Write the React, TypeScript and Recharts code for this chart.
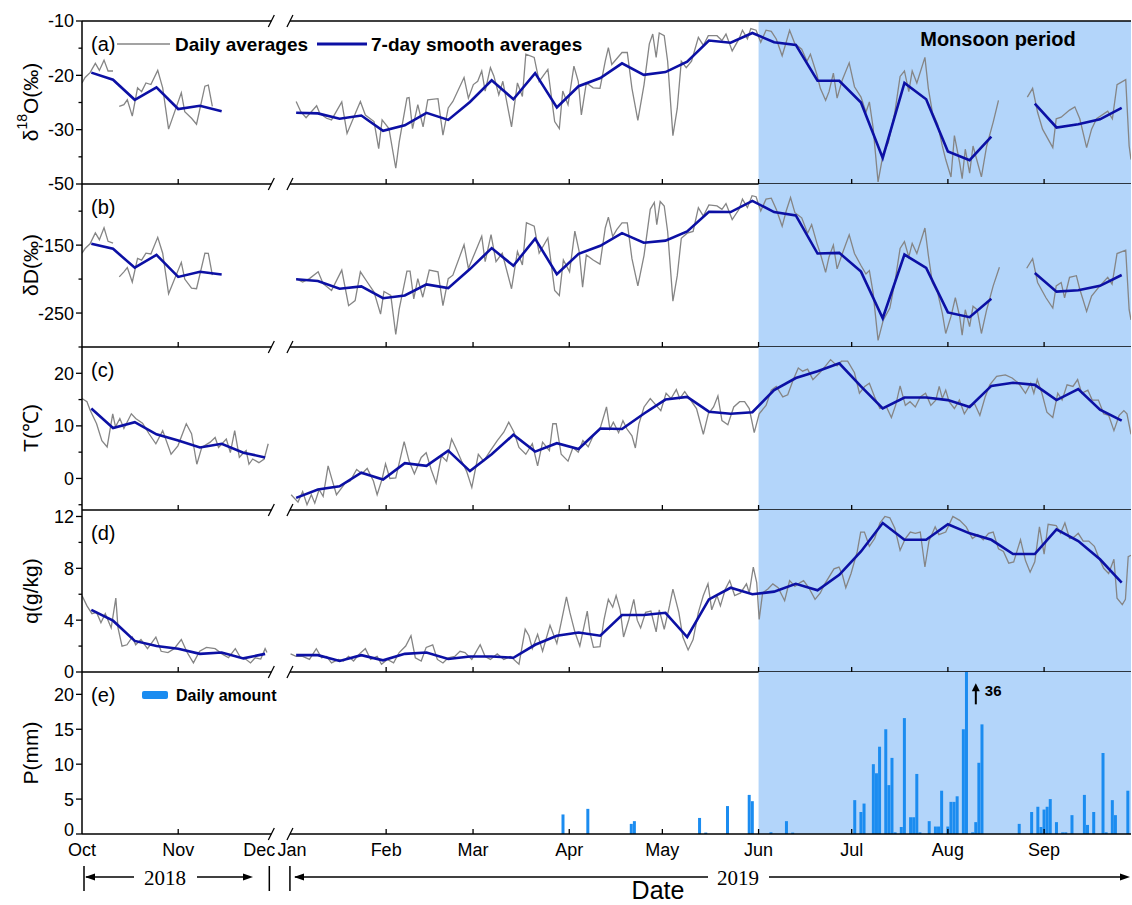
import React from 'react';
import {
  ComposedChart,
  Line,
  Bar,
  XAxis,
  YAxis,
  ReferenceArea,
  ReferenceLine,
  ReferenceDot,
} from 'recharts';

const FONT = '"Liberation Sans", Arial, Helvetica, sans-serif';
const SERIF = '"Liberation Serif", "Times New Roman", serif';
const GREY = '#858585';
const NAVY = '#0c10a4';
const SHADE = '#b3d5fa';
const RAIN_BLUE = '#1b8cf0';

// x = days since 1 Oct 2018; December is cut short by the axis break (1 Jan 2019 = 67)
const X_MAX = 338;
const MONSOON_START = 218;
const BREAK_FROM = 61;
const BREAK_TO = 67;
const MONTH_DAYS = [0, 31, 61, 67, 98, 126, 157, 187, 218, 248, 279, 310];
const MONTH_LABELS = ['Oct', 'Nov', 'Dec', 'Jan', 'Feb', 'Mar', 'Apr', 'May', 'Jun', 'Jul', 'Aug', 'Sep'];

type Pt = [number, number | null];

// (a) d18O daily averages
const D18O_DAILY: Pt[] = [
  [0, -21.4], [1, -20.4], [2.6, -19.5], [4.3, -17.8], [5.6, -19.1], [7.1, -17.2], [8.4, -19.2], [10, -19.2], [11, null],
  [12, -25.7], [13.5, -25.4], [14.6, -24.5], [16.2, -27.5], [17.9, -22.3], [19.2, -23.0], [20.6, -21.4], [22.2, -21.7],
  [24.4, -19.1], [26, -22.3], [27.9, -29.9], [32, -23.2], [33.1, -26.7], [35.3, -27.9], [36.9, -29.0], [39.6, -22.0],
  [40.7, -21.8], [42, -25.7], [55, null],
  [69, -24.8], [70.5, -26.7], [72.2, -27.8], [75.6, -25.6], [76.6, -27.0], [78.8, -27.9], [80.4, -28.2], [83.7, -24.9],
  [85.4, -30.7], [88.3, -26.7], [89.7, -24.8], [91.3, -27.3], [94.1, -28.5], [95.6, -33.5], [96.7, -28.2], [98.9, -29.8],
  [101.1, -37.1], [102.2, -32.3], [104.7, -24.2], [105.4, -24.1], [106.5, -29.8], [108.2, -25.4], [109.9, -29.5],
  [111.4, -24.5], [114.7, -24.3], [116.3, -31.0], [118, -26.0], [119.5, -24.8], [123.1, -20.4], [124.5, -24.2],
  [126.1, -21.7], [127.5, -21.1], [128.8, -19.2], [129.9, -22.9], [131.6, -18.6], [132.7, -20.1], [134.3, -23.6],
  [135.6, -21.1], [138.4, -29.5], [140.3, -21.4], [141.9, -23.9], [143, -16.1], [145.7, -16.7], [147.3, -21.1],
  [150.1, -18.9], [152.3, -28.5], [153.8, -29.8], [154.9, -22.9], [156.6, -25.4], [158.5, -18.3], [159.9, -21.1],
  [160.9, -27.3], [162.5, -21.4], [164.7, -22.3], [166.9, -22.4], [168.6, -17.4], [169.6, -14.9], [170.7, -18.0],
  [174, -15.8], [175.7, -15.8], [177.2, -22.4], [179.1, -28.3], [181.1, -21.7], [182.8, -14.2], [183.9, -12.4],
  [185, -16.7], [186, -12.2], [187.6, -12.7], [188.7, -17.4], [190.4, -31.1], [191.8, -26.1], [193.1, -17.4],
  [194.7, -18.6], [196.4, -17.4], [198.6, -13.0], [200.2, -14.5], [201.8, -12.7], [204.6, -12.7], [206.2, -13.6],
  [207.5, -12.4], [209.5, -15.5], [211.7, -13.3], [212.8, -11.7], [214.4, -13.3], [215.5, -11.4], [217.2, -11.7],
  [218.7, -13.9], [220.4, -11.7], [222.1, -11.9], [223.7, -13.3], [225.6, -16.4], [226.9, -13.9], [228, -11.7],
  [229.7, -14.2], [231.9, -15.2], [233.6, -17.4], [234.7, -16.1], [236.8, -19.9], [237.9, -22.4], [239.6, -24.6],
  [240.7, -23.0], [242.1, -19.6], [243.3, -24.2], [245, -20.8], [247.2, -17.7], [248.9, -22.1], [251, -24.0],
  [252.6, -26.8], [253.7, -24.9], [254.9, -29.6], [256.5, -39.6], [258.2, -34.3], [259.8, -32.4], [261.9, -26.8],
  [263.6, -20.2], [265, -19.2], [266.4, -23.0], [267.5, -19.2], [269, -21.4], [271.6, -16.7], [272.7, -22.4],
  [274, -26.8], [275.7, -29.0], [277.2, -33.0], [278.3, -35.5], [280, -38.7], [281.1, -31.1], [282.8, -36.1],
  [283.6, -39.0], [284.6, -33.6], [286, -38.0], [287.1, -33.0], [289.8, -38.7], [291.5, -33.0], [293.6, -28.6],
  [295.3, -24.6], [300, null],
  [304.6, -24.0], [306.3, -22.4], [307.9, -26.8], [309.5, -29.9], [312.8, -33.3], [313.9, -28.0], [315.5, -27.7],
  [318.2, -26.4], [319.9, -25.8], [321.5, -28.0], [323.7, -33.3], [325.3, -29.9], [326.9, -28.0], [330.5, -26.6],
  [332, -28.0], [333.5, -21.7], [336.3, -20.8], [337.4, -33.0], [338, -35.5],
];

const D18O_WEEKLY: Pt[] = [
  [3, -19.5], [10, -20.8], [17, -24.5], [24, -22.2], [31, -26.2], [38, -25.6], [45, -26.6], [60, null],
  [69, -26.9], [76, -27.0], [83, -28.0], [90, -27.4], [97, -30.2], [104, -29.2], [111, -26.9], [118, -28.2],
  [125, -24.9], [132, -20.9], [139, -24.4], [146, -19.6], [153, -25.9], [160, -22.0], [167, -20.5], [174, -17.8],
  [181, -19.9], [188, -19.4], [195, -17.5], [202, -13.6], [209, -14.0], [216, -12.2], [223, -13.9], [230, -14.4],
  [237, -21.0], [244, -21.0], [251, -25.0], [258, -35.2], [265, -21.4], [272, -24.4], [279, -34.0], [286, -35.6],
  [293, -31.3], [300, null], [307, -25.2], [314, -29.6], [321, -29.0], [328, -28.1], [335, -26.0],
];

// (b) dD daily averages
const DD_DAILY: Pt[] = [
  [0, -161.9], [1, -155], [2.6, -148], [4.3, -132], [5.6, -142], [7.1, -124.5], [8.4, -144.4], [10, -146.9], [11, null],
  [12, -196.8], [13.5, -189.3], [14.6, -183], [16.2, -204.3], [17.9, -169.4], [19.2, -172], [20.6, -161.9], [22.2, -163],
  [24.4, -138.5], [26, -161.9], [27.9, -221.7], [32, -175.4], [33.1, -200], [35.3, -213.3], [36.9, -214.2],
  [39.6, -161.9], [40.7, -162], [42, -194.3], [55, null],
  [69, -199.3], [71.1, -204.3], [73.3, -199.3], [76.1, -189.3], [77.7, -206.8], [80.4, -216.7], [83.7, -186.8],
  [85.9, -239.2], [88, -231.7], [89.7, -189.3], [91.9, -204.3], [94.1, -219.2], [96.2, -251.6], [97.3, -218.2],
  [99.5, -224.2], [101.1, -281.6], [102.2, -244.2], [104.7, -188.3], [105.7, -188.3], [106.9, -229.2], [108.2, -199.3],
  [109.8, -226.7], [111.9, -186.8], [114.7, -189.3], [116.3, -239.2], [118, -199.3], [119.5, -194.3], [123.1, -149.4],
  [124.5, -184.3], [126.1, -166.9], [128.8, -137], [129.9, -174.4], [131.8, -134.5], [133.4, -174.4], [135.4, -161.9],
  [138.4, -214.2], [140.3, -159.4], [141.9, -179.3], [143.2, -117], [145.7, -122], [147.3, -161.9], [150.1, -139.5],
  [152.3, -216.7], [153.8, -224.2], [155.1, -171.9], [157.1, -189.3], [158.8, -129.5], [160.2, -159.4], [161.3, -211.8],
  [162.5, -164.4], [164.7, -172], [166.9, -178], [168.6, -124.8], [169.6, -108.8], [171, -137.4], [172.3, -127.3],
  [174, -117.3], [175.7, -117.3], [177.2, -170], [179.1, -210], [181.1, -165], [183.1, -97.3], [184.4, -87.3],
  [185.2, -119.8], [186.3, -85.8], [187.6, -92.3], [188.7, -129.9], [190.4, -232.5], [191.8, -195], [193.1, -139.9],
  [195, -132.4], [196.9, -129.9], [198.6, -94.8], [200.2, -107.3], [202, -90.8], [204.6, -92.3], [206.2, -97.3],
  [207.5, -88.8], [209.5, -112.3], [211.7, -97.3], [212.8, -82.3], [214.4, -94.8], [215.9, -77.2], [217.2, -78.7],
  [218.7, -99.8], [220.4, -82.3], [222.1, -80.8], [223.7, -97.3], [225.6, -122.3], [226.9, -99.8], [228.3, -79.8],
  [229.7, -102.3], [231.9, -109.8], [233.8, -132.4], [235.1, -119.8], [236.8, -147.4], [237.9, -162.4], [239.6, -190],
  [240.7, -167.4], [242.1, -149.9], [243.3, -185], [245, -162.4], [247.2, -134.9], [248.9, -162.4], [251, -180],
  [252.6, -192.5], [253.7, -187.5], [254.9, -220], [256.5, -290.2], [258.2, -260.1], [260.3, -242.6], [261.9, -205],
  [263.6, -154.9], [265, -144.9], [266.4, -167.4], [267.5, -147.4], [269, -162.4], [271.6, -124.8], [272.7, -164.9],
  [274, -205], [275.7, -220], [277.2, -250.1], [278.3, -280.1], [280, -255], [281.4, -227.5], [282.8, -255.1],
  [283.6, -282.6], [284.6, -245.1], [286, -270.1], [287.1, -240.1], [288.4, -245], [289.8, -280.1], [291.5, -245.1],
  [293.6, -210], [295.6, -182.5], [300, null],
  [304.4, -184], [306.3, -169.9], [307.9, -205], [310.6, -227.5], [312.8, -242.6], [313.9, -210], [315.5, -205],
  [316.6, -227.5], [318.2, -197.5], [320.4, -195], [321.5, -215], [323.7, -247.6], [325.3, -225], [327.5, -212.5],
  [330.5, -197.5], [331.9, -207.5], [333.5, -162.4], [336.3, -157.4], [337.4, -245.1], [338, -260.1],
];

const DD_WEEKLY: Pt[] = [
  [3, -147.9], [10, -155.4], [17, -183.3], [24, -164.4], [31, -196.8], [38, -189.3], [45, -193.3], [60, null],
  [69, -200.3], [76, -202.8], [83, -214.2], [90, -210.8], [97, -228.2], [104, -224.2], [111, -207.8], [118, -213.3],
  [125, -185.3], [132, -154.4], [139, -180.3], [146, -140.5], [153, -192.8], [160, -162.9], [167, -151], [174, -132.4],
  [181, -146.4], [188, -143.4], [195, -129.9], [202, -100.8], [209, -101.3], [216, -84.8], [223, -101.3], [230, -106.3],
  [237, -162.4], [244, -161.4], [251, -189], [258, -257.6], [265, -163.9], [272, -183.5], [279, -249.1], [286, -256.1],
  [293, -229], [300, null], [307, -191], [314, -218.5], [321, -216.5], [328, -210], [335, -194],
];

// (c) air temperature
const T_DAILY: Pt[] = [
  [0, 15.2], [1.6, 14.6], [2.6, 13], [4.7, 10.4], [6.4, 7.2], [8.1, 6.0], [9.9, 12.3], [10.8, 9.8], [12.2, 11.4],
  [13.5, 9.5], [15.9, 12.3], [17.3, 11.4], [19.5, 10.5], [21.6, 8.5], [23.8, 6.6], [26, 9.1], [28.7, 4.6], [30.9, 6.2],
  [33.6, 10.4], [35.3, 8.5], [37, 2.7], [38.6, 5.9], [41.3, 6.9], [42.9, 7.8], [44, 5.9], [46.5, 7.5], [47.8, 4.9],
  [49.2, 9.1], [50.7, 4.0], [51.6, 4.6], [52.9, 5.3], [53.8, 2.7], [55, 3.7], [57, 3.0], [58.7, 3.7], [60, 6.6], [64, null],
  [67.4, -3.1], [69.6, -4.5], [71.1, -2.5], [72.5, -5.0], [73.9, -3.1], [75, -4.7], [76.4, -2.1], [77.7, -3.4],
  [79.3, 2.4], [80.7, -0.5], [82, -3.1], [84.8, -0.9], [86.4, -0.5], [88.5, 1.7], [90.2, 0.9], [91.9, 1.9], [93.9, -0.5],
  [95.1, -3.1], [96.7, -0.1], [97.8, 2.8], [99.2, 0], [101.1, 0.1], [103.8, 7.0], [105.4, 3.3], [107.1, 0.9],
  [109.3, 4.0], [110.9, 4.9], [112.5, 1.7], [114.1, -0.9], [115.8, 4.3], [117.5, 3.3], [119.1, 7.5], [120.6, 5.6],
  [122.3, 3.3], [123.9, 1.4], [125.6, -1.7], [127.7, 4.6], [129.4, 3.3], [131.6, 5.3], [133.8, 7.2], [135.9, 8.8],
  [137.5, 10.7], [139.2, 8.8], [140.8, 5.9], [143, 4.6], [145.1, 6.6], [146.8, 2.4], [148.4, 6.9], [150.6, 5.3],
  [151.7, 10.4], [152.8, 10.4], [154.4, 4.6], [156.6, 3.3], [158.2, 5.9], [159.9, 5.0], [161.4, 7.2], [163.1, 6.0],
  [164.8, 8.2], [166.9, 9.4], [169, 13.6], [170.1, 9.4], [171.2, 10.7], [172.9, 8.7], [174.3, 11.0], [175.6, 9.4],
  [177.2, 8.1], [178.3, 5.8], [179.4, 10.3], [181.1, 13.6], [183.1, 15.2], [185, 13.9], [186.5, 12.9], [188.2, 16.2],
  [189.8, 15.2], [191.5, 16.9], [192.6, 15.2], [194.2, 16.5], [198, 13.3], [200.2, 8.4], [201.8, 12.3], [203.5, 13.6],
  [204.9, 15.7], [206.2, 11.0], [208.1, 10.2], [210, 13.6], [211.9, 14.6], [213.5, 14.6], [215, 13.3], [216.6, 8.7],
  [218.2, 12.3], [220.4, 13.9], [222.1, 16.8], [223.7, 17.5], [225.8, 15.5], [227.4, 15.9], [229.2, 18.8], [230.8, 21.0],
  [232.2, 20.4], [233.8, 20.8], [235.5, 18.8], [237.7, 20.1], [239.6, 21.4], [241.2, 22.6], [243.3, 21.4], [244.7, 22.3],
  [246.7, 22.3], [248.9, 20.1], [250.5, 16.2], [252.2, 17.5], [253.7, 18.1], [255.4, 15.5], [257.1, 13.3], [259.2, 13.6],
  [260.8, 11.6], [262.2, 14.0], [263.6, 17.6], [265.3, 13.9], [266.8, 14.6], [268.5, 13.6], [270.1, 15.5], [271.8, 16.2],
  [273.5, 13.9], [275.1, 14.9], [276.2, 17.5], [277.2, 15.2], [278.3, 16.8], [279.4, 14.6], [281.1, 13.3], [282.7, 14.9],
  [284.3, 12.3], [286, 13.9], [287.6, 14.2], [289.3, 12.0], [291, 15.5], [292.5, 17.8], [294.7, 19.4], [297.5, 19.7],
  [299.7, 19.1], [301.8, 18.1], [304, 16.2], [305.7, 18.1], [306.7, 16.2], [307.8, 18.8], [309.3, 16.2], [310.9, 12.6],
  [312.8, 11.6], [314.4, 16.2], [315.8, 14.9], [317.4, 17.8], [319.3, 17.5], [320.8, 18.8], [322.1, 16.2], [324.1, 16.8],
  [325.5, 14.9], [327.5, 14.9], [329.2, 12.3], [330.8, 12.0], [332.5, 9.1], [334.2, 12.0], [335.7, 12.9], [336.7, 12.3],
  [338, 8.4],
];

const T_WEEKLY: Pt[] = [
  [3, 13.3], [10, 9.6], [17, 10.7], [24, 8.4], [31, 7.2], [38, 5.9], [45, 6.6], [52, 4.9], [59, 4.0], [64, null],
  [69, -3.7], [76, -2.1], [83, -1.5], [90, 1.1], [97, -0.2], [104, 2.9], [111, 2.4], [118, 5.3], [125, 1.4], [132, 4.6],
  [139, 8.3], [146, 5.1], [153, 6.7], [160, 5.6], [167, 9.5], [174, 9.4], [181, 12.3], [188, 15.0], [195, 15.5],
  [202, 12.7], [209, 12.3], [216, 12.6], [223, 16.8], [230, 19.1], [237, 20.4], [244, 21.9], [251, 17.5], [258, 13.3],
  [265, 15.4], [272, 15.4], [279, 14.9], [286, 13.6], [293, 17.6], [300, 18.2], [307, 17.8], [314, 14.9], [321, 17.0],
  [328, 13.1], [335, 11.0],
];

// (d) specific humidity
const Q_DAILY: Pt[] = [
  [0, 5.9], [1.6, 5.1], [3.2, 4.5], [4.7, 4.6], [6.1, 3.8], [7.5, 4.5], [9.4, 3.4], [10.9, 5.7], [11.6, 3.4],
  [12.9, 2.0], [14.5, 2.1], [16.2, 2.7], [17.3, 2.1], [19, 2.5], [21.1, 1.8], [23.8, 2.7], [25.5, 1.6], [27.7, 1.5],
  [29.7, 1.8], [32, 2.5], [33.9, 1.5], [35.9, 0.7], [37.9, 1.6], [40.1, 1.9], [42.9, 1.8], [45.1, 1.4], [47.2, 1.1],
  [49.4, 1.8], [51.1, 1.1], [52.7, 1.0], [54.3, 0.7], [55.8, 1.1], [57.6, 1.0], [59, 1.8], [59.6, 1.5], [64, null],
  [67.2, 1.4], [69, 1.2], [71.1, 1.2], [73.3, 0.97], [75.5, 1.8], [77.2, 1.1], [78.8, 1.2], [80.4, 0.7], [82.6, 0.97],
  [84.3, 0.85], [85.9, 1.2], [87.5, 0.85], [89.4, 1.4], [91.3, 1.8], [93, 0.97], [95.1, 1.2], [96.5, 0.6], [98.4, 0.97],
  [100.4, 0.7], [102.2, 1.5], [104.3, 2.0], [106, 2.8], [107.4, 1.1], [109.3, 0.85], [110.9, 1.9], [113, 2.1],
  [114.5, 0.97], [116.3, 0.7], [118, 1.1], [120.1, 1.2], [121.8, 1.6], [123.4, 1.5], [125.6, 0.97], [128.3, 2.1],
  [129.9, 1.2], [131.6, 0.97], [133.8, 1.4], [135.9, 0.97], [138.1, 1.2], [140.8, 0.6], [142.8, 3.3], [144, 2.8],
  [145.1, 1.8], [146.8, 2.9], [148.4, 1.6], [150.8, 3.6], [153, 2.2], [156.1, 5.8], [157.2, 4.6], [158.8, 3.1],
  [160.4, 2.0], [162.8, 4.7], [163.7, 3.0], [164.8, 1.9], [166.9, 1.96], [168.2, 4.05], [169.6, 5.6], [171, 5.0],
  [172.1, 5.9], [173.4, 4.8], [174.5, 2.7], [176.2, 4.05], [177.8, 5.6], [178.9, 4.0], [180, 3.4], [181.6, 4.6],
  [183.3, 4.7], [185, 3.1], [186, 4.8], [187.6, 3.3], [189.3, 5.1], [190.4, 6.4], [192.3, 4.6], [193.6, 2.7],
  [195.3, 1.7], [196.9, 2.5], [198.6, 4.6], [200.2, 5.9], [201.7, 6.8], [202.9, 4.8], [204.6, 5.9], [205.7, 5.1],
  [207.3, 6.4], [208.7, 7.05], [210.3, 5.9], [212.2, 6.1], [214.1, 6.8], [215, 6.1], [216.3, 8.1], [217.4, 6.9],
  [218.2, 4.05], [219.3, 6.1], [221, 6.4], [222.6, 6.8], [224.3, 6.5], [226.4, 5.5], [228, 7.05], [229.7, 6.6],
  [231.4, 6.9], [232.5, 7.05], [234.2, 6.5], [236.2, 5.6], [237.9, 6.1], [239.1, 6.7], [242.3, 7.96], [243.9, 8.1],
  [245, 7.5], [246.1, 6.5], [247.8, 7.6], [249.8, 9.3], [250.9, 10.8], [252.1, 10.8], [253.7, 9.7], [255.4, 10.3],
  [257.1, 11.5], [258.7, 12.0], [260.3, 11.9], [261.9, 11.1], [263.6, 9.4], [265.3, 10.3], [266.9, 10.8], [268.5, 10.7],
  [270.1, 10.8], [271.6, 8.1], [272.9, 10.1], [274.9, 11.2], [276.1, 10.6], [278.3, 10.8], [280.6, 12.0], [282.8, 11.7],
  [284.9, 11.2], [286.9, 10.3], [288.6, 10.6], [290.4, 10.2], [292.1, 10.7], [293.6, 10.8], [295.3, 9.5], [296.9, 9.3],
  [298.6, 8.4], [300.2, 8.5], [302.4, 10.2], [304, 8.6], [305.5, 7.7], [307, 8.5], [308.5, 11.2], [310, 9.1],
  [311.3, 11.4], [313.9, 11.3], [315.3, 10.7], [316.7, 11.5], [318.2, 10.3], [319.6, 10.4], [321, 10.7], [322.6, 10.1],
  [324.4, 10.1], [326.2, 9.7], [327.5, 8.9], [329.2, 8.0], [330.8, 7.6], [332.5, 8.7], [333.5, 5.7], [335.2, 5.2],
  [336.2, 5.6], [337.1, 8.9], [338, 9.0],
];

const Q_WEEKLY: Pt[] = [
  [3, 4.8], [10, 3.96], [17, 2.4], [24, 2.0], [31, 1.8], [38, 1.4], [45, 1.5], [52, 1.05], [59, 1.4], [64, null],
  [69, 1.3], [76, 1.3], [83, 0.85], [90, 1.3], [97, 0.9], [104, 1.4], [111, 1.5], [118, 1.0], [125, 1.2], [132, 1.2],
  [139, 1.1], [146, 2.1], [153, 2.8], [160, 3.05], [167, 2.8], [174, 4.4], [181, 4.4], [188, 4.57], [195, 2.7],
  [202, 5.6], [209, 6.5], [216, 6.0], [223, 6.2], [230, 6.8], [237, 6.3], [244, 7.5], [251, 9.3], [258, 11.5],
  [265, 10.2], [272, 10.2], [279, 11.4], [286, 10.7], [293, 10.2], [300, 9.1], [307, 9.1], [314, 11.0], [321, 10.1],
  [328, 8.7], [335, 6.9],
];

// (e) daily precipitation (mm)
const RAIN: Pt[] = [
  [155, 2.8], [163, 3.6], [177, 1.45], [178, 1.84], [199, 2.3], [201, 0.2], [208, 4.0], [215, 5.6], [216, 4.7],
  [222, 0.25], [227, 1.84], [229, 0.2], [249, 4.85], [251, 3.15], [252, 4.36], [255, 10.0], [256, 8.7], [257, 12.5],
  [259, 15.0], [260, 7.0], [261, 10.9], [262, 0.24], [264, 1.0], [265, 16.6], [267, 2.4], [268, 2.4], [269, 8.6],
  [270, 0.24], [273, 1.84], [275, 1.07], [276, 1.07], [277, 6.2], [279, 1.07], [280, 4.6], [281, 4.6], [282, 5.4],
  [284, 15.0], [285, 36], [287, 0.24], [288, 1.7], [289, 10.2], [290, 15.7], [302, 1.45], [306, 3.15], [308, 3.9],
  [309, 1.0], [310, 3.5], [311, 3.9], [312, 5.0], [314, 1.7], [316, 0.24], [317, 0.24], [319, 2.7], [323, 5.6],
  [324, 1.3], [326, 3.15], [329, 11.6], [330, 0.24], [332, 4.85], [333, 2.7], [337, 6.2],
];

const rows = (pts: Pt[]) => pts.map(([x, y]) => ({ x, y }));

const monthTick = (withLabel: boolean) => (props: any) => {
  const { x, y, payload } = props;
  const day = payload.value;
  const label = MONTH_LABELS[MONTH_DAYS.indexOf(day)];
  const mark = day !== 0 && day !== BREAK_FROM && day !== BREAK_TO;
  let dx = 0;
  if (label === 'Dec') dx = -12;
  if (label === 'Jan') dx = 2;
  return (
    <g>
      {mark && <line x1={x} x2={x} y1={y} y2={y - 5} stroke="#000" strokeWidth={1.3} />}
      {withLabel && (
        <text x={x + dx} y={y + 22} textAnchor="middle" fontSize={18} fontFamily={FONT} fill="#000">
          {label}
        </text>
      )}
    </g>
  );
};

// lift: raise the label of the lowest tick a little (it sits just above the month row)
const valueTick = (majors: number[], fmt: (v: number) => string, lift = 0) => (props: any) => {
  const { x, y, payload, index } = props;
  const v = payload.value;
  const major = majors.includes(v);
  const dy = index === 0 ? -lift : 0;
  return (
    <g>
      <line x1={x} x2={x - (major ? 6 : 3.5)} y1={y} y2={y} stroke="#000" strokeWidth={1.3} />
      {major && (
        <text x={x - 8} y={y + dy} dy="0.36em" textAnchor="end" fontSize={18} fontFamily={FONT} fill="#000">
          {fmt(v)}
        </text>
      )}
    </g>
  );
};

const Slash = (props: any) => (
  <line x1={props.cx - 3} y1={props.cy + 6} x2={props.cx + 3} y2={props.cy - 6} stroke="#000" strokeWidth={1.3} />
);

const Arrow36 = (props: any) => {
  const { cx, cy } = props;
  return (
    <g>
      <line x1={cx} x2={cx} y1={cy + 10} y2={cy - 6} stroke="#000" strokeWidth={2} />
      <polygon points={`${cx},${cy - 11} ${cx - 4},${cy - 3} ${cx + 4},${cy - 3}`} fill="#000" />
      <text x={cx + 9} y={cy + 2} fontSize={15} fontWeight="bold" fontFamily={FONT} fill="#000">
        36
      </text>
    </g>
  );
};

interface PanelProps {
  top: number;
  height: number;
  domain: [number, number];
  ticks: number[];
  majors: number[];
  fmt?: (v: number) => string;
  bottom?: boolean;
  frameTop?: boolean;
  data?: any[];
  children?: React.ReactNode;
}

function Panel({ top, height, domain, ticks, majors, fmt = String, bottom = false, frameTop = false, data, children }: PanelProps) {
  // space under the plot: tick labels of the y axis (or the month row) must not be cut by the svg edge
  const below = bottom ? 71 : 14;
  const [yMin, yMax] = domain;
  const border = (y: number) => [
    <ReferenceLine key={`l${y}`} segment={[{ x: 0, y }, { x: BREAK_FROM, y }]} stroke="#000" strokeWidth={1.5} ifOverflow="visible" />,
    <ReferenceLine key={`r${y}`} segment={[{ x: BREAK_TO, y }, { x: X_MAX, y }]} stroke="#000" strokeWidth={1.5} ifOverflow="visible" />,
    <ReferenceDot key={`s1${y}`} x={BREAK_FROM} y={y} r={1} shape={Slash} ifOverflow="visible" />,
    <ReferenceDot key={`s2${y}`} x={BREAK_TO} y={y} r={1} shape={Slash} ifOverflow="visible" />,
  ];
  return (
    <div style={{ position: 'absolute', left: 0, top: top - 30 }}>
      <ComposedChart width={1132} height={30 + height + below} data={data} margin={{ top: 30, right: 1, bottom: below - 1, left: 22 }}>
        <ReferenceArea x1={MONSOON_START} x2={X_MAX} y1={yMin} y2={yMax} fill={SHADE} fillOpacity={1} stroke="none" ifOverflow="hidden" />
        <XAxis
          dataKey="x"
          type="number"
          domain={[0, X_MAX]}
          ticks={MONTH_DAYS}
          interval={0}
          height={1}
          axisLine={false}
          tickLine={false}
          tickSize={0}
          tickMargin={0}
          tick={monthTick(bottom)}
          allowDataOverflow
        />
        <YAxis
          type="number"
          domain={domain}
          ticks={ticks}
          interval={0}
          width={60}
          axisLine={{ stroke: '#000', strokeWidth: 1.5 }}
          tickLine={false}
          tickSize={0}
          tickMargin={0}
          tick={valueTick(majors, fmt, bottom ? 4 : 0)}
          allowDataOverflow
        />
        {children}
        {border(yMin)}
        {frameTop ? border(yMax) : null}
      </ComposedChart>
    </div>
  );
}

const dailyLine = (pts: Pt[]) => (
  <Line data={rows(pts)} dataKey="y" stroke={GREY} strokeWidth={1.3} dot={false} connectNulls={false} isAnimationActive={false} />
);
const weeklyLine = (pts: Pt[]) => (
  <Line data={rows(pts)} dataKey="y" stroke={NAVY} strokeWidth={2.6} dot={false} connectNulls={false} isAnimationActive={false} />
);

const px = (d: number) => 82 + (d * 1049) / X_MAX;

function Overlay() {
  const title = (y: number, content: React.ReactNode) => (
    <text x={30} y={y} transform={`rotate(-90 30 ${y})`} textAnchor="middle" dominantBaseline="central" fontSize={21} fontFamily={FONT} fill="#000">
      {content}
    </text>
  );
  const tag = (y: number, t: string) => (
    <text x={91} y={y} fontSize={20} fontFamily={FONT} fill="#000">{t}</text>
  );
  const rowY = 877;
  const left = (x: number) => <polygon points={`${x},${rowY} ${x + 10},${rowY - 3.5} ${x + 10},${rowY + 3.5}`} fill="#000" />;
  const right = (x: number) => <polygon points={`${x},${rowY} ${x - 10},${rowY - 3.5} ${x - 10},${rowY + 3.5}`} fill="#000" />;
  return (
    <svg width={1132} height={905} style={{ position: 'absolute', left: 0, top: 0, pointerEvents: 'none' }}>
      {title(102, <>δ<tspan dy={-8} fontSize={14}>18</tspan><tspan dy={8}>O(‰)</tspan></>)}
      {title(265, 'δD(‰)')}
      {title(428, 'T(℃)')}
      {title(591, 'q(g/kg)')}
      {title(753, 'P(mm)')}
      {tag(51, '(a)')}
      {tag(214, '(b)')}
      {tag(377, '(c)')}
      {tag(540, '(d)')}
      {tag(702, '(e)')}

      <line x1={117} x2={170} y1={44} y2={44} stroke={GREY} strokeWidth={1.5} />
      <text x={175} y={51} fontSize={19} fontWeight="bold" fontFamily={FONT} fill="#000">Daily averages</text>
      <line x1={317} x2={367} y1={44} y2={44} stroke={NAVY} strokeWidth={2.8} />
      <text x={371} y={51} fontSize={19} fontWeight="bold" fontFamily={FONT} fill="#000">7-day smooth averages</text>
      <text x={998} y={46} textAnchor="middle" fontSize={20} fontWeight="bold" fontFamily={FONT} fill="#000">Monsoon period</text>

      <rect x={142} y={691} width={26} height={8} rx={2} fill={RAIN_BLUE} />
      <text x={176} y={701} fontSize={16} fontWeight="bold" fontFamily={FONT} fill="#000">Daily amount</text>

      <line x1={px(0) + 2} x2={px(0) + 2} y1={866} y2={891} stroke="#000" strokeWidth={1.5} />
      <line x1={px(BREAK_FROM) - 2} x2={px(BREAK_FROM) - 2} y1={866} y2={891} stroke="#000" strokeWidth={1.5} />
      <line x1={px(BREAK_TO)} x2={px(BREAK_TO)} y1={866} y2={891} stroke="#000" strokeWidth={1.5} />
      <line x1={86} x2={134} y1={rowY} y2={rowY} stroke="#000" strokeWidth={1.3} />
      {left(85)}
      <text x={165} y={885} textAnchor="middle" fontSize={21} fontFamily={SERIF} fill="#000">2018</text>
      <line x1={197} x2={250} y1={rowY} y2={rowY} stroke="#000" strokeWidth={1.3} />
      {right(253)}
      <line x1={295} x2={708} y1={rowY} y2={rowY} stroke="#000" strokeWidth={1.3} />
      {left(294)}
      <text x={738} y={885} textAnchor="middle" fontSize={21} fontFamily={SERIF} fill="#000">2019</text>
      <line x1={769} x2={1127} y1={rowY} y2={rowY} stroke="#000" strokeWidth={1.3} />
      {right(1130)}
      <text x={658} y={899} textAnchor="middle" fontSize={25} fontFamily={FONT} fill="#000">Date</text>
    </svg>
  );
}

export default function App() {
  return (
    <div style={{ position: 'absolute', left: 0, top: 0, width: 1132, height: 905, background: '#fff', overflow: 'hidden' }}>
      <Panel top={21} height={163} domain={[-40, -10]} ticks={[-40, -35, -30, -25, -20, -15, -10]} majors={[-40, -30, -20, -10]} fmt={(v) => (v === -40 ? '-50' : String(v))} frameTop>
        {dailyLine(D18O_DAILY)}
        {weeklyLine(D18O_WEEKLY)}
      </Panel>
      <Panel top={184} height={163} domain={[-300, -60]} ticks={[-300, -250, -200, -150, -100]} majors={[-250, -150]}>
        {dailyLine(DD_DAILY)}
        {weeklyLine(DD_WEEKLY)}
      </Panel>
      <Panel top={347} height={163} domain={[-6, 25]} ticks={[-5, 0, 5, 10, 15, 20]} majors={[0, 10, 20]}>
        {dailyLine(T_DAILY)}
        {weeklyLine(T_WEEKLY)}
      </Panel>
      <Panel top={510} height={162} domain={[0, 12.5]} ticks={[0, 2, 4, 6, 8, 10, 12]} majors={[0, 4, 8, 12]}>
        {dailyLine(Q_DAILY)}
        {weeklyLine(Q_WEEKLY)}
      </Panel>
      <Panel top={672} height={162} domain={[0, 23.2]} ticks={[0, 5, 10, 15, 20]} majors={[0, 5, 10, 15, 20]} bottom data={rows(RAIN)}>
        <Bar dataKey="y" fill={RAIN_BLUE} barSize={3} isAnimationActive={false} />
        <ReferenceDot x={288} y={20} r={1} shape={Arrow36} ifOverflow="visible" />
      </Panel>
      <Overlay />
    </div>
  );
}
